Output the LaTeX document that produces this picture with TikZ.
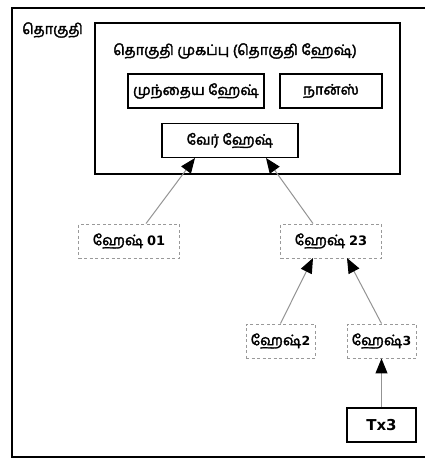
\documentclass[tikz,border=0pt]{standalone}
\usepackage{fontspec}
\setmainfont[Script=Tamil, AutoFakeBold=2.2]{Hind Madurai}
\newfontfamily\latinfont{DejaVu Sans}
\newcommand{\lat}[2][13]{{\latinfont\bfseries\fontsize{#1}{16}\selectfont #2}}
\usetikzlibrary{arrows.meta}
\begin{document}
\begin{tikzpicture}[x=1pt,y=-1pt,
  every node/.style={font=\bfseries\fontsize{14.5}{17}\selectfont, inner sep=0pt},
  solidbox/.style={draw=black, line width=1.2pt, minimum height=34pt},
  dashbox/.style={draw=gray!80, dashed, line width=0.9pt, minimum height=34pt, dash pattern=on 3pt off 2.5pt},
  link/.style={draw=gray!85, line width=1pt, -{Triangle[length=15pt,width=12pt,color=black]}},
  frame/.style={draw=black, line width=1.4pt}]
\useasboundingbox (0,0) rectangle (425,458);
\draw[frame] (425,8) -- (12,8) -- (12,457) -- (425,457);
\node[anchor=west] (blocklbl) at (22,30) {தொகுதி};
\draw[frame] (95,23) rectangle (400,174);
\node (title) at (235,51) {தொகுதி முகப்பு (தொகுதி ஹேஷ்)};
\node[solidbox, minimum width=136pt] (prev) at (196,91) {முந்தைய ஹேஷ்};
\node[solidbox, minimum width=102pt] (nonce) at (331,91) {நான்ஸ்};
\node[solidbox, minimum width=136pt] (root) at (230,140.5) {வேர் ஹேஷ்};
\node[dashbox, minimum width=101pt] (h01) at (129,241) {ஹேஷ் \lat{01}};
\node[dashbox, minimum width=101pt] (h23) at (331,241) {ஹேஷ் \lat{23}};
\node[dashbox, minimum width=69pt] (h2) at (280.5,341) {ஹேஷ்\lat[12.5]{2}};
\node[dashbox, minimum width=69pt] (h3) at (381.5,341) {ஹேஷ்\lat[12.5]{3}};
\node[solidbox, minimum width=69pt] (tx3) at (381.5,425) {\lat[15]{Tx3}};
\coordinate (r1) at (195,158);
\coordinate (r2) at (266,158);
\coordinate (s1) at (313,258);
\coordinate (s2) at (347,258);
\draw[link] (h01.north -| 146,0) -- (r1);
\draw[link] (h23.north -| 313,0) -- (r2);
\draw[link] (h2.north) -- (s1);
\draw[link] (h3.north) -- (s2);
\draw[link] (tx3.north) -- (h3.south);
\end{tikzpicture}
\end{document}
